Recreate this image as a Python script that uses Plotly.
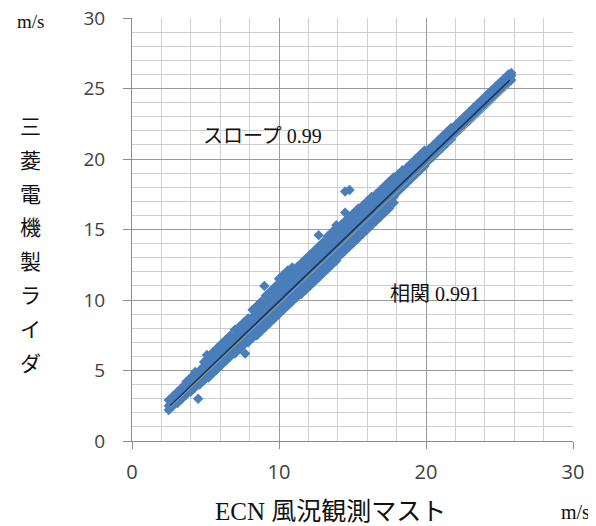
import plotly.graph_objects as go

# ECN mast wind speed (x) vs Mitsubishi lidar wind speed (y), m/s
ecn_x = [
    2.5, 2.5, 2.5,
    2.8, 2.8, 2.8,
    3.1, 3.1, 3.1,
    3.4, 3.4, 3.4,
    3.7, 3.7, 3.7,
    4.0, 4.0, 4.0,
    4.3, 4.3, 4.3, 4.3,
    4.6, 4.6, 4.6, 4.5,
    4.9, 4.9, 4.9, 4.9,
    5.2, 5.2, 5.2, 5.2, 5.1,
    5.5, 5.5, 5.5, 5.5,
    5.8, 5.8, 5.8, 5.8,
    6.1, 6.1, 6.1, 6.1,
    6.4, 6.4, 6.4, 6.4,
    6.7, 6.7, 6.7, 6.7,
    7.0, 7.0, 7.0, 7.0,
    7.3, 7.3, 7.3, 7.3,
    7.6, 7.6, 7.6, 7.6, 7.7,
    7.9, 7.9, 7.9, 7.9,
    8.2, 8.2, 8.2, 8.2, 8.2,
    8.5, 8.5, 8.5, 8.5, 8.5,
    8.8, 8.8, 8.8, 8.8, 8.8,
    9.1, 9.1, 9.1, 9.1, 9.1, 9.0,
    9.4, 9.4, 9.4, 9.4, 9.4,
    9.7, 9.7, 9.7, 9.7, 9.7,
    10.0, 10.0, 10.0, 10.0, 10.0, 10.0,
    10.3, 10.3, 10.3, 10.3, 10.3, 10.3,
    10.6, 10.6, 10.6, 10.6, 10.6, 10.6,
    10.9, 10.9, 10.9, 10.9, 10.9, 10.9,
    11.2, 11.2, 11.2, 11.2, 11.2,
    11.5, 11.5, 11.5, 11.5, 11.5,
    11.8, 11.8, 11.8, 11.8, 11.8,
    12.1, 12.1, 12.1, 12.1, 12.1,
    12.4, 12.4, 12.4, 12.4, 12.4,
    12.7, 12.7, 12.7, 12.7, 12.7, 12.7,
    13.0, 13.0, 13.0, 13.0, 13.0,
    13.3, 13.3, 13.3, 13.3, 13.3,
    13.6, 13.6, 13.6, 13.6, 13.6,
    13.9, 13.9, 13.9, 13.9, 13.9, 13.9,
    14.2, 14.2, 14.2, 14.2, 14.2,
    14.5, 14.5, 14.5, 14.5, 14.5, 14.5, 14.5,
    14.8, 14.8, 14.8, 14.8, 14.8, 14.8,
    15.1, 15.1, 15.1, 15.1, 15.1,
    15.4, 15.4, 15.4, 15.4, 15.4,
    15.7, 15.7, 15.7, 15.7, 15.7,
    16.0, 16.0, 16.0, 16.0, 16.0,
    16.3, 16.3, 16.3, 16.3, 16.3,
    16.6, 16.6, 16.6, 16.6, 16.6,
    16.9, 16.9, 16.9, 16.9, 16.9,
    17.2, 17.2, 17.2, 17.2, 17.2,
    17.5, 17.5, 17.5, 17.5, 17.5,
    17.8, 17.8, 17.8, 17.8, 17.8,
    18.1, 18.1, 18.1, 18.1,
    18.4, 18.4, 18.4, 18.4,
    18.7, 18.7, 18.7, 18.7,
    19.0, 19.0, 19.0, 19.0,
    19.3, 19.3, 19.3, 19.3,
    19.6, 19.6, 19.6, 19.6,
    19.9, 19.9, 19.9, 19.9,
    20.2, 20.2, 20.2,
    20.5, 20.5, 20.5,
    20.8, 20.8, 20.8,
    21.1, 21.1, 21.1,
    21.4, 21.4, 21.4,
    21.7, 21.7, 21.7,
    22.0, 22.0, 22.0,
    22.3, 22.3, 22.3,
    22.6, 22.6, 22.6,
    22.9, 22.9, 22.9,
    23.2, 23.2, 23.2,
    23.5, 23.5, 23.5,
    23.8, 23.8, 23.8,
    24.1, 24.1, 24.1,
    24.4, 24.4, 24.4,
    24.7, 24.7, 24.7,
    25.0, 25.0, 25.0,
    25.3, 25.3, 25.3,
    25.6, 25.6, 25.6,
    25.8, 25.8, 25.8,
]

lidar_y = [
    2.2, 2.5, 2.9,
    2.5, 2.8, 3.2,
    2.7, 3.1, 3.5,
    3.0, 3.4, 3.8,
    3.3, 3.7, 4.2,
    3.5, 4.0, 4.5,
    3.8, 4.3, 4.8, 4.9,
    4.0, 4.5, 5.0, 3.0,
    4.3, 4.8, 5.3, 5.6,
    4.5, 5.0, 5.5, 5.9, 6.1,
    4.8, 5.3, 5.8, 6.3,
    5.1, 5.6, 6.1, 6.6,
    5.4, 5.9, 6.4, 6.9,
    5.7, 6.2, 6.7, 7.2,
    6.0, 6.5, 7.0, 7.5,
    6.2, 6.8, 7.3, 7.9,
    6.5, 7.0, 7.6, 8.1,
    6.8, 7.3, 7.9, 8.4, 6.2,
    7.0, 7.6, 8.2, 8.7,
    7.3, 7.8, 8.3, 8.8, 9.3,
    7.5, 8.1, 8.6, 9.1, 9.6,
    7.8, 8.4, 8.9, 9.4, 9.9,
    8.1, 8.7, 9.2, 9.7, 10.3, 11.0,
    8.4, 9.0, 9.5, 10.0, 10.6,
    8.7, 9.3, 9.8, 10.3, 10.9,
    9.0, 9.6, 10.1, 10.6, 11.2, 11.5,
    9.3, 9.9, 10.4, 10.9, 11.5, 11.8,
    9.6, 10.2, 10.7, 11.2, 11.8, 12.1,
    9.9, 10.5, 11.0, 11.5, 12.0, 12.3,
    10.2, 10.7, 11.3, 11.8, 12.3,
    10.4, 11.0, 11.6, 12.1, 12.6,
    10.7, 11.3, 11.9, 12.4, 12.9,
    11.0, 11.6, 12.1, 12.7, 13.2,
    11.3, 11.9, 12.4, 13.0, 13.5,
    11.6, 12.2, 12.7, 13.3, 13.8, 14.6,
    11.9, 12.5, 13.0, 13.6, 14.1,
    12.2, 12.8, 13.3, 13.9, 14.5,
    12.5, 13.1, 13.6, 14.2, 14.8,
    12.8, 13.4, 13.9, 14.5, 15.1, 15.3,
    13.2, 13.7, 14.2, 14.8, 15.3,
    13.5, 14.0, 14.5, 15.1, 15.6, 16.2, 17.7,
    13.8, 14.3, 14.8, 15.4, 15.9, 17.8,
    14.1, 14.6, 15.1, 15.7, 16.2,
    14.4, 14.9, 15.4, 16.0, 16.5,
    14.7, 15.2, 15.7, 16.2, 16.7,
    15.0, 15.5, 16.0, 16.5, 17.0,
    15.3, 15.8, 16.3, 16.8, 17.3,
    15.6, 16.1, 16.6, 17.1, 17.5,
    15.9, 16.4, 16.9, 17.4, 17.8,
    16.2, 16.7, 17.2, 17.6, 18.1,
    16.5, 17.0, 17.5, 17.9, 18.4,
    16.9, 17.3, 17.8, 18.2, 18.7,
    17.7, 18.1, 18.5, 18.9,
    18.0, 18.4, 18.8, 19.2,
    18.3, 18.7, 19.1, 19.4,
    18.6, 19.0, 19.4, 19.7,
    18.9, 19.3, 19.7, 20.0,
    19.2, 19.6, 20.0, 20.3,
    19.5, 19.9, 20.3, 20.6,
    19.9, 20.3, 20.7,
    20.2, 20.6, 21.0,
    20.5, 20.9, 21.3,
    20.8, 21.2, 21.6,
    21.1, 21.5, 21.9,
    21.4, 21.8, 22.2,
    21.8, 22.1, 22.4,
    22.1, 22.4, 22.7,
    22.4, 22.7, 23.0,
    22.7, 23.0, 23.3,
    23.0, 23.3, 23.6,
    23.3, 23.6, 23.9,
    23.6, 23.9, 24.2,
    23.9, 24.2, 24.5,
    24.2, 24.5, 24.8,
    24.5, 24.8, 25.1,
    24.8, 25.1, 25.4,
    25.1, 25.4, 25.7,
    25.4, 25.7, 26.0,
    25.6, 25.9, 26.1,
]

# regression line (dark) and reference line (thin)
fit_x = [2.6, 25.7]
fit_y = [2.5, 25.6]
ref_x = [2.6, 25.6]
ref_y = [2.4, 25.1]

x_ticks = [0, 10, 20, 30]
y_ticks = [0, 5, 10, 15, 20, 25, 30]

slope_label = "スロープ 0.99"
corr_label = "相関 0.991"
x_title = "ECN 風況観測マスト"
y_title = "三菱電機製ライダ"
unit_label = "m/s"

SERIF = "Liberation Serif, DejaVu Serif, Noto Sans CJK JP, serif"
SANS = "Open Sans, Liberation Sans, sans-serif"

fig = go.Figure()
fig.add_trace(go.Scatter(
    x=ecn_x, y=lidar_y, mode="markers",
    marker=dict(symbol="diamond", size=8, color="#4a7ebb", line=dict(width=0)),
    showlegend=False, hoverinfo="skip",
))
fig.add_trace(go.Scatter(
    x=fit_x, y=fit_y, mode="lines",
    line=dict(color="#1b3556", width=1.6), showlegend=False, hoverinfo="skip",
))
fig.add_trace(go.Scatter(
    x=ref_x, y=ref_y, mode="lines",
    line=dict(color="#9aa58a", width=1), showlegend=False, hoverinfo="skip",
))

# page offset (browser default body margin)
OFF = 8
W, H = 596, 526
SCR_L, SCR_R, SCR_T, SCR_B = 132, 573, 18, 441   # plot area on screen
PLOT_L = SCR_L - OFF
PLOT_T = SCR_T - OFF
PLOT_R = W - (SCR_R - OFF)
PLOT_B = H - (SCR_B - OFF)
pw = W - PLOT_L - PLOT_R
ph = H - PLOT_T - PLOT_B

def px_to_paper(px, py):
    return (px - SCR_L) / pw, 1 - (py - SCR_T) / ph

def label(px, py, text, size):
    ax, ay = px_to_paper(px, py)
    return dict(x=ax, y=ay, xref="paper", yref="paper", text=text,
                xanchor="center", yanchor="middle", showarrow=False,
                font=dict(family=SERIF, size=size, color="#111"))

annotations = []
annotations.append(dict(x=8.9, y=21.6, xref="x", yref="y", text=slope_label,
                        xanchor="center", yanchor="middle", showarrow=False,
                        font=dict(family=SERIF, size=20, color="#111")))
annotations.append(dict(x=20.6, y=10.4, xref="x", yref="y", text=corr_label,
                        xanchor="center", yanchor="middle", showarrow=False,
                        font=dict(family=SERIF, size=20, color="#111")))
# vertical y-axis title, one character per row
for i, ch in enumerate(y_title):
    annotations.append(label(30, 127 + i * 33.8, ch, 21))
annotations.append(label(30, 21, unit_label, 19))
annotations.append(label(575, 512, unit_label, 20))
annotations.append(label(330, 511, x_title, 25))

fig.update_layout(
    width=W, height=H,
    margin=dict(l=PLOT_L, r=PLOT_R, t=PLOT_T, b=PLOT_B, autoexpand=False),
    paper_bgcolor="white", plot_bgcolor="white",
    annotations=annotations,
    xaxis=dict(
        range=[0, 30], tickvals=x_ticks, ticks="outside", ticklen=7,
        tickcolor="#8c8c8c", showline=True, linecolor="#8c8c8c", linewidth=1,
        showgrid=True, gridcolor="#9a9a9a", gridwidth=1, zeroline=False,
        minor=dict(dtick=2, showgrid=True, gridcolor="#cfcfcf", gridwidth=1),
        tickfont=dict(family=SANS, size=20, color="#404040"),
        ticklabelstandoff=6, ticklabeloverflow="allow",
        fixedrange=True, automargin=False,
    ),
    yaxis=dict(
        range=[0, 30], tickvals=y_ticks, ticks="outside", ticklen=8,
        tickcolor="#8c8c8c", showline=True, linecolor="#8c8c8c", linewidth=1,
        showgrid=True, gridcolor="#9a9a9a", gridwidth=1, zeroline=False,
        minor=dict(dtick=1, showgrid=True, gridcolor="#cfcfcf", gridwidth=1),
        tickfont=dict(family=SANS, size=19, color="#404040"),
        ticklabelstandoff=14, ticklabeloverflow="allow",
        fixedrange=True, automargin=False,
    ),
)

fig.write_html("out.html")
